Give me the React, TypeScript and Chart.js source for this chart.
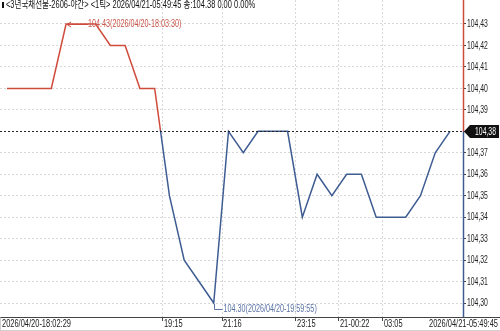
import { useEffect, useRef } from 'react';
import { Chart, registerables } from 'chart.js';
Chart.register(...registerables);

const titleText = '<3년국채선물-2606-야간> <1틱> 2026/04/21-05:49:45 종:104.38 0.00 0.00%';
const prices = [
  104.40, 104.40, 104.40, 104.40, 104.43, 104.43, 104.43, 104.42, 104.42, 104.40,
  104.40, 104.35, 104.32, 104.31, 104.30, 104.38, 104.37, 104.38, 104.38, 104.38,
  104.34, 104.36, 104.35, 104.36, 104.36, 104.34, 104.34, 104.34, 104.35, 104.37,
  104.38,
];
const yTicks = [104.30, 104.31, 104.32, 104.33, 104.34, 104.35, 104.36, 104.37, 104.38, 104.39, 104.40, 104.41, 104.42, 104.43];
const xTickIdx = [10.56, 14.56, 19.57, 22.48, 25.46];
const xTickLabels = ['19:15', '21:16', '23:15', '21-00:22', '03:05'];
const startLabel = '2026/04/20-18:02:29';
const endLabel = '2026/04/21-05:49:45';
const lastPrice = 104.38;
const maxIdx = 4;
const maxLabel = '104.43(2026/04/20-18:03:30)';
const minIdx = 14;
const minLabel = '104.30(2026/04/20-19:59:55)';

const RED = '#cf4a3b';
const BLUE = '#3e5c92';
const FONT = '10px "Liberation Sans", "Noto Sans CJK KR", sans-serif';

function txt(ctx: CanvasRenderingContext2D, s: string, x: number, y: number, align: 'left' | 'right' | 'center', sx: number) {
  ctx.save();
  ctx.font = FONT;
  ctx.textBaseline = 'middle';
  ctx.textAlign = align;
  ctx.translate(x, y);
  ctx.scale(sx * 0.9, 1);
  ctx.fillText(s, 0, 0);
  ctx.restore();
}

export default function App() {
  const ref = useRef<HTMLCanvasElement>(null);
  useEffect(() => {
    const canvas = ref.current!;
    const overlay = {
      id: 'overlay',
      afterDraw(chart: any) {
        const { ctx, chartArea, scales } = chart;
        const xs = scales.x, ys = scales.y;
        const yLast = Math.round(ys.getPixelForValue(lastPrice)) + 0.5;
        ctx.save();
        // last price dotted line
        ctx.strokeStyle = '#222';
        ctx.lineWidth = 1;
        ctx.setLineDash([2, 2]);
        ctx.beginPath();
        ctx.moveTo(chartArea.left, yLast);
        ctx.lineTo(chartArea.right, yLast);
        ctx.stroke();
        ctx.setLineDash([]);
        // right axis border colored
        const xr = Math.round(chartArea.right) + 0.5;
        ctx.lineWidth = 1.5;
        ctx.strokeStyle = RED;
        ctx.beginPath(); ctx.moveTo(xr, 0); ctx.lineTo(xr, yLast); ctx.stroke();
        ctx.strokeStyle = BLUE;
        ctx.beginPath(); ctx.moveTo(xr, yLast); ctx.lineTo(xr, chartArea.bottom); ctx.stroke();
        // y labels
        ctx.fillStyle = '#222';
        yTicks.forEach((v) => {
          if (v === lastPrice) return;
          txt(ctx, v.toFixed(2).replace('.', ','), chartArea.right + 4, ys.getPixelForValue(v) + 0.5, 'left', 0.76);
        });
        // bottom axis band
        const yb = Math.round(chartArea.bottom) + 0.5;
        ctx.lineWidth = 1;
        ctx.strokeStyle = '#444';
        ctx.beginPath(); ctx.moveTo(0, yb); ctx.lineTo(500, yb); ctx.stroke();
        ctx.strokeStyle = '#cfcfcf';
        ctx.beginPath(); ctx.moveTo(0, 330.5); ctx.lineTo(500, 330.5); ctx.stroke();
        ctx.beginPath(); ctx.moveTo(0.5, yb); ctx.lineTo(0.5, 331); ctx.stroke();
        // x labels
        ctx.fillStyle = '#222';
        txt(ctx, startLabel, 2, 324.5, 'left', 0.83);
        xTickIdx.forEach((v, i) => {
          txt(ctx, xTickLabels[i], xs.getPixelForValue(v) + 1, 324.5, 'left', 0.83);
        });
        txt(ctx, endLabel, 498, 324.5, 'right', 0.83);
        // header
        ctx.fillStyle = '#111';
        ctx.fillRect(2, 2, 2, 6);
        txt(ctx, titleText, 6, 5.5, 'left', 0.83);
        // max annotation
        const mx = xs.getPixelForValue(maxIdx);
        const my = Math.round(ys.getPixelForValue(prices[maxIdx])) + 0.5;
        ctx.strokeStyle = RED;
        ctx.lineWidth = 1;
        ctx.beginPath();
        ctx.moveTo(mx + 1, my); ctx.lineTo(mx + 22, my);
        ctx.moveTo(mx + 5, my - 2.5); ctx.lineTo(mx + 1, my); ctx.lineTo(mx + 5, my + 2.5);
        ctx.stroke();
        ctx.fillStyle = '#c9574a';
        txt(ctx, maxLabel, mx + 22, my, 'left', 0.8);
        // min annotation
        const nx = Math.round(xs.getPixelForValue(minIdx)) + 0.5;
        const ny = ys.getPixelForValue(prices[minIdx]);
        ctx.strokeStyle = '#5a72a6';
        ctx.beginPath();
        ctx.moveTo(nx, ny + 1); ctx.lineTo(nx, ny + 6.5); ctx.lineTo(nx + 8, ny + 6.5);
        ctx.stroke();
        ctx.fillStyle = '#5a72a6';
        txt(ctx, minLabel, nx + 9, ny + 6.5, 'left', 0.8);
        // last price tag
        const tx = chartArea.right + 1;
        ctx.fillStyle = '#111';
        ctx.beginPath();
        ctx.moveTo(tx, yLast);
        ctx.lineTo(tx + 6, yLast - 6.5);
        ctx.lineTo(499, yLast - 6.5);
        ctx.lineTo(499, yLast + 6.5);
        ctx.lineTo(tx + 6, yLast + 6.5);
        ctx.closePath();
        ctx.fill();
        ctx.fillStyle = '#fff';
        txt(ctx, lastPrice.toFixed(2).replace('.', ','), (tx + 6 + 499) / 2 + 1, yLast + 0.5, 'center', 0.76);
        ctx.restore();
      },
    };
    const chart = new Chart(canvas, {
      type: 'line',
      data: {
        datasets: [
          {
            data: prices.map((v, i) => ({ x: i, y: v })),
            borderWidth: 1.5,
            pointRadius: 0,
            tension: 0,
            borderColor: (c: any) => {
              const ch = c.chart;
              const { chartArea, scales } = ch;
              if (!chartArea) return BLUE;
              const y = scales.y.getPixelForValue(lastPrice) - 1;
              const g = ch.ctx.createLinearGradient(0, chartArea.top, 0, chartArea.bottom);
              const r = Math.min(1, Math.max(0, (y - chartArea.top) / (chartArea.bottom - chartArea.top)));
              g.addColorStop(0, RED);
              g.addColorStop(r, RED);
              g.addColorStop(r, BLUE);
              g.addColorStop(1, BLUE);
              return g;
            },
          },
        ],
      },
      options: {
        animation: false,
        responsive: false,
        devicePixelRatio: 1,
        layout: { padding: 0 },
        plugins: { legend: { display: false }, tooltip: { enabled: false } },
        scales: {
          x: {
            type: 'linear',
            min: -0.474,
            max: 30.88,
            afterBuildTicks: (s: any) => {
              s.ticks = xTickIdx.map((v) => ({ value: v }));
            },
            afterFit: (s: any) => {
              s.height = 14;
            },
            ticks: { display: false },
            grid: { color: '#d8d8d8', tickColor: '#444', tickLength: 4, lineWidth: 1 },
            border: { display: false, dash: [2, 2] },
          },
          y: {
            type: 'linear',
            position: 'right',
            min: 104.29348,
            max: 104.44118,
            afterBuildTicks: (s: any) => {
              s.ticks = yTicks.map((v) => ({ value: v }));
            },
            afterFit: (s: any) => {
              s.width = 37;
            },
            ticks: { display: false },
            grid: { color: '#d8d8d8', tickColor: '#444', tickLength: 3, lineWidth: 1 },
            border: { display: false, dash: [2, 2] },
          },
        },
      },
      plugins: [overlay],
    });
    return () => chart.destroy();
  }, []);
  return (
    <div style={{ position: 'absolute', left: 0, top: 0, width: 500, height: 331, background: '#fff' }}>
      <canvas ref={ref} width={500} height={331} style={{ display: 'block' }} />
    </div>
  );
}
